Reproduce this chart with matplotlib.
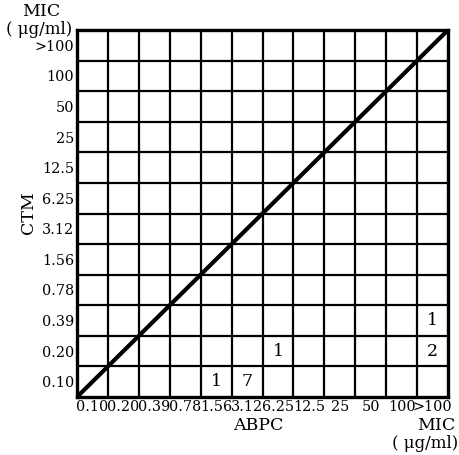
import matplotlib.pyplot as plt

# MIC categories (ug/ml), same for both axes
mic = ['0.10', '0.20', '0.39', '0.78', '1.56', '3.12', '6.25',
       '12.5', '25', '50', '100', '>100']

# strain counts per cell: ABPC MIC (x) vs CTM MIC (y)
abpc = ['1.56', '3.12', '6.25', '>100', '>100']
ctm = ['0.10', '0.10', '0.20', '0.20', '0.39']
counts = [1, 7, 1, 2, 1]

plt.rcParams['font.family'] = ['DejaVu Serif']

fig = plt.figure(figsize=(4.59, 4.55), dpi=100)
ax = fig.add_axes([77 / 459, 1 - 397 / 455, 371 / 459, 367 / 455])

n = len(mic)
ax.set_xlim(0, n)
ax.set_ylim(0, n)

# grid
for i in range(1, n):
    ax.axvline(i, color='black', linewidth=1.6)
    ax.axhline(i, color='black', linewidth=1.6)
for s in ax.spines.values():
    s.set_linewidth(2.4)

# equal-MIC diagonal
ax.plot([0, n], [0, n], color='black', linewidth=3.0, solid_capstyle='butt')

# tick labels centred in cells
ax.set_xticks([i + 0.5 for i in range(n)])
ax.set_xticklabels(mic, fontsize=10.4)
ax.set_yticks([i + 0.5 for i in range(n)])
ax.set_yticklabels(mic, fontsize=10.4)
ax.tick_params(length=0, pad=2)

# counts
for a, c, k in zip(abpc, ctm, counts):
    ax.text(mic.index(a) + 0.5, mic.index(c) + 0.5, str(k),
            ha='center', va='center', fontsize=12.5)

# axis titles
fig.text(28 / 459, 1 - 213 / 455, 'CTM', rotation=90, ha='center', va='center', fontsize=12.5)
fig.text(258 / 459, 1 - 426 / 455, 'ABPC', ha='center', va='center', fontsize=12.5)
fig.text(41 / 459, 1 - 12 / 455, 'MIC', ha='center', va='center', fontsize=12.5)
fig.text(39 / 459, 1 - 30 / 455, '( \u03bcg/ml)', ha='center', va='center', fontsize=12)
fig.text(436 / 459, 1 - 425 / 455, 'MIC', ha='center', va='center', fontsize=12.5)
fig.text(425 / 459, 1 - 444 / 455, '( \u03bcg/ml)', ha='center', va='center', fontsize=12)

fig.savefig('out.png', dpi=100)
